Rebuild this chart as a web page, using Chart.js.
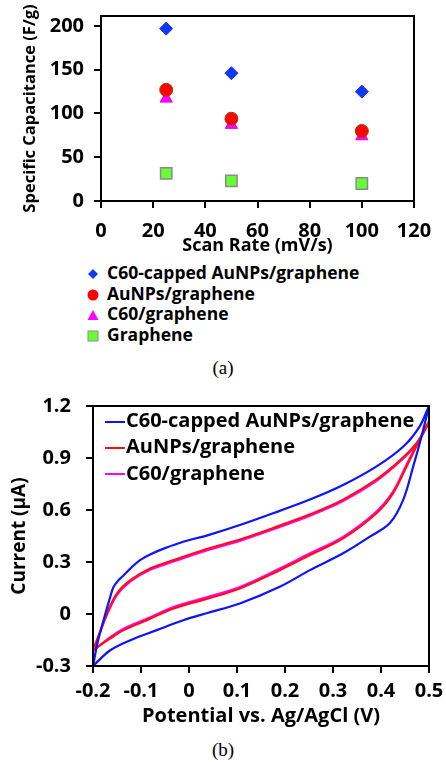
<!DOCTYPE html>
<html>
<head>
<meta charset="utf-8">
<script src="https://cdn.jsdelivr.net/npm/chart.js@4"></script>
<style>
  body { margin: 0; background: #fff; }
  #page { position: relative; width: 446px; height: 762px; overflow: hidden; background: #fff; }
  .box { position: absolute; left: 0; width: 446px; }
  .leg { position: absolute; font-family: "Open Sans", sans-serif; font-weight: bold; color: #000; white-space: nowrap; }
  .caption { position: absolute; left: 0; width: 446px; text-align: center; font-family: "Liberation Serif", serif; font-size: 19px; }
</style>
</head>
<body>
<div id="page">
  <div class="box" style="top:0;height:258px"><canvas id="chartA"></canvas></div>
  <div id="legendA"></div>
  <div class="caption" style="top:357px">(a)</div>
  <div class="box" style="top:390px;height:340px"><canvas id="chartB"></canvas></div>
  <div id="legendB"></div>
  <div class="caption" style="top:739px">(b)</div>
</div>
<script>
// ---- (a) capacitance vs scan rate ----
const scanRates = [25, 50, 100];
const capC60AuNPs = [197, 146, 125];
const capAuNPs = [127, 94, 80];
const capC60 = [117, 87, 74];
const capGraphene = [31.5, 23, 20];
const namesA = ['C60-capped AuNPs/graphene', 'AuNPs/graphene', 'C60/graphene', 'Graphene'];
const rateTicks = [0, 20, 40, 60, 80, 100, 120];
const capTicks = [0, 50, 100, 150, 200];

// ---- (b) cyclic voltammograms (forward and reverse scans) ----
const namesB = ['C60-capped AuNPs/graphene', 'AuNPs/graphene', 'C60/graphene'];
const potTicks = [-0.2, -0.1, 0, 0.1, 0.2, 0.3, 0.4, 0.5];
const curTicks = [-0.3, 0, 0.3, 0.6, 0.9, 1.2];

const blueFwdV = [-0.2, -0.19, -0.178, -0.165, -0.157, -0.145, -0.136, -0.12, -0.102, -0.08, -0.05, -0.012, 0.04, 0.106, 0.189, 0.252, 0.321, 0.39, 0.446, 0.48, 0.5];
const blueFwdI = [-0.3, -0.16, -0.036, 0.09, 0.157, 0.2, 0.224, 0.268, 0.311, 0.345, 0.38, 0.417, 0.455, 0.513, 0.595, 0.66, 0.744, 0.85, 0.965, 1.08, 1.2];
const blueRevV = [0.5, 0.484, 0.467, 0.446, 0.418, 0.376, 0.321, 0.252, 0.189, 0.106, 0.04, -0.012, -0.067, -0.122, -0.164, -0.2];
const blueRevI = [1.2, 1.02, 0.85, 0.657, 0.523, 0.445, 0.35, 0.253, 0.157, 0.061, 0.007, -0.036, -0.093, -0.151, -0.209, -0.3];

const redFwdV = [-0.2, -0.185, -0.171, -0.15, -0.122, -0.081, -0.032, 0.04, 0.106, 0.189, 0.252, 0.321, 0.39, 0.439, 0.474, 0.5];
const redFwdI = [-0.209, -0.1, 0.003, 0.119, 0.195, 0.263, 0.311, 0.378, 0.43, 0.51, 0.575, 0.66, 0.775, 0.885, 0.985, 1.11];
const redRevV = [0.5, 0.477, 0.453, 0.425, 0.39, 0.321, 0.252, 0.189, 0.106, 0.04, -0.032, -0.088, -0.136, -0.164, -0.2];
const redRevI = [1.11, 0.985, 0.85, 0.696, 0.58, 0.436, 0.34, 0.253, 0.147, 0.09, 0.032, -0.036, -0.093, -0.141, -0.209];

const magFwdI = [-0.212, -0.105, -0.005, 0.11, 0.188, 0.255, 0.303, 0.37, 0.422, 0.502, 0.567, 0.652, 0.767, 0.878, 0.98, 1.105];
const magRevI = [1.105, 0.99, 0.86, 0.706, 0.59, 0.445, 0.35, 0.262, 0.156, 0.099, 0.04, -0.028, -0.085, -0.133, -0.212];

const FONT = '"Open Sans", sans-serif';

// cadre noir autour de la zone de tracé
const frame = {
  id: 'frame',
  afterDraw(chart) {
    const a = chart.chartArea, ctx = chart.ctx;
    ctx.save();
    ctx.strokeStyle = '#000';
    ctx.lineWidth = 2;
    ctx.strokeRect(a.left, a.top, a.right - a.left, a.bottom - a.top);
    ctx.restore();
  }
};

function pts(xs, ys) {
  return xs.map((x, i) => ({ x: x, y: ys[i] }));
}

function axis(opts, tickList) {
  return Object.assign({
    type: 'linear',
    grid: { drawOnChartArea: false, drawTicks: true, tickLength: 7, color: '#000', lineWidth: 2 },
    border: { display: true, color: '#000', width: 2 },
    afterBuildTicks: s => { s.ticks = tickList.map(v => ({ value: v })); },
  }, opts);
}

const lbl = v => String(Math.round(v * 10) / 10);

new Chart(document.getElementById('chartA'), {
  type: 'scatter',
  data: {
    datasets: [
      { label: namesA[0], data: pts(scanRates, capC60AuNPs), pointStyle: 'rectRot', pointRadius: 6.5, backgroundColor: '#1236f5', borderColor: '#1236f5', borderWidth: 1 },
      { label: namesA[1], data: pts(scanRates, capAuNPs), pointStyle: 'circle', pointRadius: 6.5, backgroundColor: '#ff0000', borderColor: '#b03a00', borderWidth: 1 },
      { label: namesA[2], data: pts(scanRates, capC60), pointStyle: 'triangle', pointRadius: 7, backgroundColor: '#ff00ff', borderColor: '#e000e0', borderWidth: 1 },
      { label: namesA[3], data: pts(scanRates, capGraphene), pointStyle: 'rect', pointRadius: 8, backgroundColor: '#66ff33', borderColor: '#8a8a8a', borderWidth: 1.5 }
    ]
  },
  options: {
    responsive: true,
    maintainAspectRatio: false,
    animation: false,
    layout: { padding: { top: 16, right: 32, left: 20, bottom: 0 } },
    plugins: { legend: { display: false }, tooltip: { enabled: false } },
    scales: {
      x: axis({
        min: 0, max: 120,
        ticks: { color: '#000', padding: 11, callback: lbl, font: { family: FONT, size: 20, weight: 'bold' } },
        title: { display: true, text: 'Scan Rate (mV/s)', color: '#000', padding: { top: 0, bottom: 1 }, font: { family: FONT, size: 18, weight: 'bold' } },
        afterFit: s => { s.height = 57; s.paddingLeft = 0; s.paddingRight = 0; }
      }, rateTicks),
      y: axis({
        min: 0, max: 211.4,
        ticks: { color: '#000', padding: 10, callback: lbl, font: { family: FONT, size: 20, weight: 'bold' } },
        title: { display: true, text: 'Specific Capacitance (F/g)', color: '#000', padding: { top: 0, bottom: 4 }, font: { family: FONT, size: 16.5, weight: 'bold' } },
        afterFit: s => { s.width = 81; s.paddingTop = 0; s.paddingBottom = 0; }
      }, capTicks)
    }
  },
  plugins: [frame]
});

const colorsB = ['#0a14ff', '#ff1010', '#ff00ff'];
const lineDs = (name, xs, ys, c) => ({
  label: name, data: pts(xs, ys), showLine: true, borderColor: c, backgroundColor: c,
  borderWidth: 2.2, pointRadius: 0, tension: 0.35
});

new Chart(document.getElementById('chartB'), {
  type: 'scatter',
  data: {
    datasets: [
      lineDs(namesB[0], blueFwdV, blueFwdI, colorsB[0]),
      lineDs(namesB[0], blueRevV, blueRevI, colorsB[0]),
      lineDs(namesB[1], redFwdV, redFwdI, colorsB[1]),
      lineDs(namesB[1], redRevV, redRevI, colorsB[1]),
      lineDs(namesB[2], redFwdV, magFwdI, colorsB[2]),
      lineDs(namesB[2], redRevV, magRevI, colorsB[2])
    ]
  },
  options: {
    responsive: true,
    maintainAspectRatio: false,
    animation: false,
    layout: { padding: { top: 16, right: 17, left: 8, bottom: 0 } },
    plugins: { legend: { display: false }, tooltip: { enabled: false } },
    scales: {
      x: axis({
        min: -0.2, max: 0.5,
        ticks: { color: '#000', padding: 6, callback: lbl, font: { family: FONT, size: 20, weight: 'bold' } },
        title: { display: true, text: 'Potential vs. Ag/AgCl (V)', color: '#000', padding: { top: 0, bottom: 2 }, font: { family: FONT, size: 20, weight: 'bold' } },
        afterFit: s => { s.height = 64; s.paddingLeft = 0; s.paddingRight = 0; }
      }, potTicks),
      y: axis({
        min: -0.3, max: 1.2,
        ticks: { color: '#000', padding: 15, callback: lbl, font: { family: FONT, size: 20, weight: 'bold' } },
        title: { display: true, text: 'Current (μA)', color: '#000', padding: { top: 0, bottom: 4 }, font: { family: FONT, size: 19, weight: 'bold' } },
        afterFit: s => { s.width = 85; s.paddingTop = 0; s.paddingBottom = 0; }
      }, curTicks)
    }
  },
  plugins: [frame]
});

// légendes en HTML
const symA = [
  '<svg width="12" height="12"><polygon points="6,1 11,6 6,11 1,6" fill="#1236f5"/></svg>',
  '<svg width="12" height="12"><circle cx="6" cy="6" r="5.5" fill="#ff0000"/></svg>',
  '<svg width="12" height="12"><polygon points="6,1 11.5,11 0.5,11" fill="#ff00ff"/></svg>',
  '<svg width="12" height="12"><rect x="1" y="1" width="10" height="10" fill="#66ff33" stroke="#8a8a8a"/></svg>'
];
const legA = document.getElementById('legendA');
namesA.forEach((n, i) => {
  const d = document.createElement('div');
  d.className = 'leg';
  d.style.cssText = `left:87px;top:${261 + i * 20.5}px;font-size:17.5px;line-height:22px;`;
  d.innerHTML = `<span style="display:inline-block;width:20px;vertical-align:middle;line-height:0">${symA[i]}</span>${n}`;
  legA.appendChild(d);
});

const legB = document.getElementById('legendB');
namesB.forEach((n, i) => {
  const d = document.createElement('div');
  d.className = 'leg';
  d.style.cssText = `left:105px;top:${407 + i * 26.3}px;font-size:20px;line-height:26px;`;
  d.innerHTML = `<span style="display:inline-block;width:20px;height:0;border-top:2px solid ${colorsB[i]};vertical-align:middle;margin-right:1px"></span>${n}`;
  legB.appendChild(d);
});
</script>
</body>
</html>
